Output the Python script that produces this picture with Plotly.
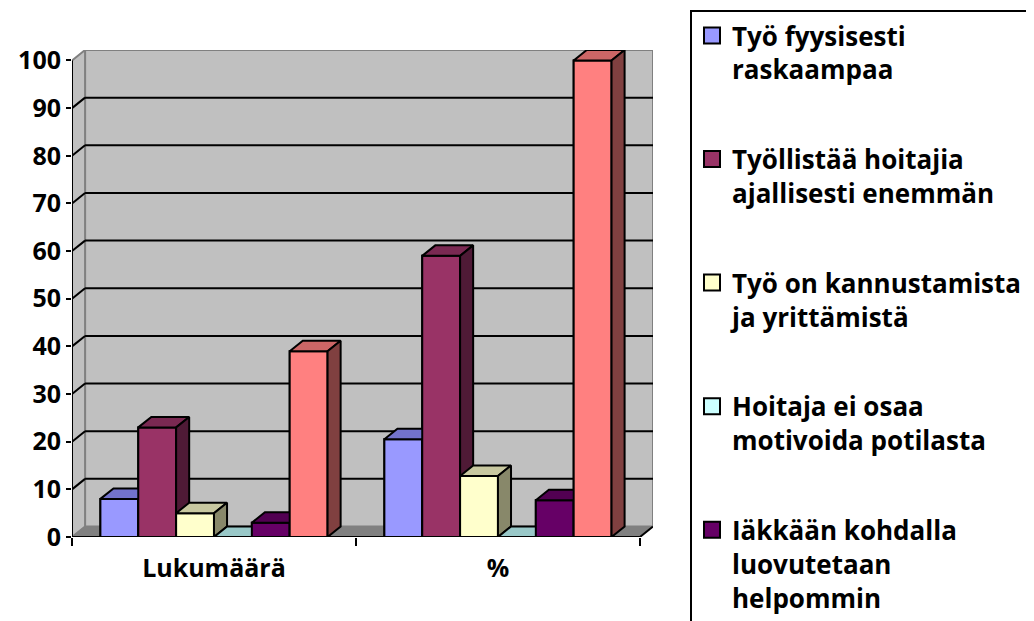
import plotly.graph_objects as go

# ── Data ────────────────────────────────────────────────────────────────────
CATEGORIES = ["Lukumäärä", "%"]

SERIES_NAMES = [
    "Työ fyysisesti<br>raskaampaa",
    "Työllistää hoitajia<br>ajallisesti enemmän",
    "Työ on kannustamista<br>ja yrittämistä",
    "Hoitaja ei osaa<br>motivoida potilasta",
    "Iäkkään kohdalla<br>luovutetaan<br>helpommin",
    "Yhteensä",
]

LUKUMAARA = [8, 23, 5, 0, 3, 39]
PROSENTTI = [20.5, 59, 12.8, 0, 7.7, 100]

Y_TICKS = [0, 10, 20, 30, 40, 50, 60, 70, 80, 90, 100]

# ── Styling ─────────────────────────────────────────────────────────────────
FRONT_COLORS = ["#9999FF", "#993366", "#FFFFCC", "#CCFFFF", "#660066", "#FF8080"]
TOP_COLORS = ["#7373CC", "#7A2952", "#C8C8A0", "#99C8C8", "#520052", "#CC6666"]
SIDE_COLORS = ["#4D4D99", "#4F1A36", "#88886A", "#668080", "#330033", "#804040"]

WALL = "#C0C0C0"
FLOOR = "#808080"
EDGE = "#808080"

DX, DY = 0.046, 2.2          # 3-D depth offset in axis units
GROUP_W = 0.8
BAR_W = GROUP_W / len(SERIES_NAMES)
X_LEFT, X_RIGHT = -0.5, len(CATEGORIES) - 0.5

# plot area in figure pixels (the page adds an 8px body margin)
PLOT_L, PLOT_R, PLOT_T, PLOT_B = 64, 645, 42, 529

fig = go.Figure()

series_values = [[a, b] for a, b in zip(LUKUMAARA, PROSENTTI)]

# flat front faces
for i, (name, vals) in enumerate(zip(SERIES_NAMES, series_values)):
    fig.add_trace(go.Bar(
        x=list(range(len(CATEGORIES))),
        y=vals,
        offset=-GROUP_W / 2 + i * BAR_W,
        width=BAR_W,
        name=name,
        showlegend=False,
        marker=dict(color=FRONT_COLORS[i], line=dict(color="black", width=2)),
        hovertemplate="%{y}<extra></extra>",
    ))


def face(xs, ys, color):
    return go.Scatter(
        x=xs + [xs[0]], y=ys + [ys[0]],
        mode="lines", fill="toself", fillcolor=color,
        line=dict(color="black", width=2),
        showlegend=False, hoverinfo="skip",
    )


# 3-D faces, painted left to right so nearer bars cover the ones behind
for c in range(len(CATEGORIES)):
    for i, vals in enumerate(series_values):
        h = vals[c]
        x0 = c - GROUP_W / 2 + i * BAR_W
        x1 = x0 + BAR_W
        fig.add_trace(face([x0, x1, x1, x0], [0, 0, h, h], FRONT_COLORS[i]))
        fig.add_trace(face([x0, x1, x1 + DX, x0 + DX], [h, h, h + DY, h + DY], TOP_COLORS[i]))
        fig.add_trace(face([x1, x1 + DX, x1 + DX, x1], [0, DY, h + DY, h], SIDE_COLORS[i]))

# legend keys (square swatches like the original)
for i, name in enumerate(SERIES_NAMES):
    fig.add_trace(go.Scatter(
        x=[None], y=[None], mode="markers", name=name, legendgroup=f"s{i}",
        marker=dict(symbol="square", size=18, color=FRONT_COLORS[i],
                    line=dict(color="black", width=2)),
    ))

# ── Walls, floor and gridlines ──────────────────────────────────────────────
top = Y_TICKS[-1]
shapes = [
    # back wall
    dict(type="rect", x0=X_LEFT + DX, x1=X_RIGHT + DX, y0=DY, y1=top + DY,
         fillcolor=WALL, line=dict(color=EDGE, width=2), layer="below"),
    # side wall
    dict(type="path",
         path=f"M{X_LEFT},0 L{X_LEFT + DX},{DY} L{X_LEFT + DX},{top + DY} L{X_LEFT},{top} Z",
         fillcolor=WALL, line=dict(color=EDGE, width=2), layer="below"),
    # floor
    dict(type="path",
         path=f"M{X_LEFT},0 L{X_RIGHT},0 L{X_RIGHT + DX},{DY} L{X_LEFT + DX},{DY} Z",
         fillcolor=FLOOR, line=dict(color=FLOOR, width=1), layer="below"),
]
for v in Y_TICKS[1:-1]:
    shapes.append(dict(type="line", x0=X_LEFT + DX, x1=X_RIGHT + DX, y0=v + DY, y1=v + DY,
                       line=dict(color="black", width=2), layer="below"))
    shapes.append(dict(type="line", x0=X_LEFT, x1=X_LEFT + DX, y0=v, y1=v + DY,
                       line=dict(color="black", width=2), layer="below"))
# front edges
shapes.append(dict(type="line", x0=X_LEFT, x1=X_RIGHT, y0=0, y1=0,
                   line=dict(color="black", width=2), layer="below"))
shapes.append(dict(type="line", x0=X_RIGHT, x1=X_RIGHT + DX, y0=0, y1=DY,
                   line=dict(color="black", width=2), layer="below"))
shapes.append(dict(type="line", x0=X_LEFT, x1=X_LEFT, y0=0, y1=top,
                   line=dict(color="black", width=2), layer="below"))

plot_w = PLOT_R - PLOT_L
plot_h = PLOT_B - PLOT_T

fig.update_layout(
    width=1034,
    height=621,
    barmode="overlay",
    shapes=shapes,
    paper_bgcolor="white",
    plot_bgcolor="white",
    margin=dict(l=PLOT_L, r=1034 - PLOT_R, t=PLOT_T, b=621 - PLOT_B, autoexpand=False),
    xaxis=dict(
        range=[X_LEFT, X_RIGHT + DX],
        tickvals=list(range(len(CATEGORIES))),
        ticktext=CATEGORIES,
        ticks="",
        showgrid=False, zeroline=False, showline=False,
        tickfont=dict(family="Open Sans", size=25, color="black", weight="bold"),
        ticklabelstandoff=14,
        minor=dict(tickmode="array", tickvals=[X_LEFT + k for k in range(len(CATEGORIES) + 1)],
                   ticks="outside", ticklen=8, tickwidth=2, tickcolor="black", showgrid=False),
    ),
    yaxis=dict(
        range=[0, top + DY],
        tickvals=Y_TICKS,
        ticks="outside", ticklen=5, tickwidth=2, tickcolor="black",
        showgrid=False, zeroline=False, showline=False,
        tickfont=dict(family="Open Sans", size=25, color="black", weight="bold"),
    ),
    legend=dict(
        x=(682 - PLOT_L) / plot_w, y=(PLOT_B - 2) / plot_h,
        xanchor="left", yanchor="top",
        bgcolor="white", bordercolor="black", borderwidth=2,
        font=dict(family="Open Sans", size=26, color="black", weight="bold"),
        traceorder="grouped", tracegroupgap=53, valign="top",
        maxheight=1000,
    ),
)

fig.write_html("out.html")
